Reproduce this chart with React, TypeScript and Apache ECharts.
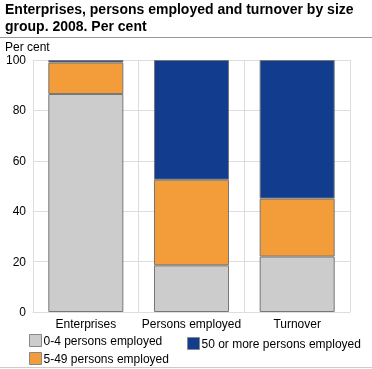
import React, { useEffect, useRef } from "react";
import * as echarts from "echarts";

const categories = ["Enterprises", "Persons employed", "Turnover"];
const seriesNames = ["0-4 persons employed", "5-49 persons employed", "50 or more persons employed"];
const small = [86.5, 18.5, 22];
const medium = [12.5, 34, 23];
const large = [1, 47.5, 55];
const yTicks = { min: 0, max: 100, interval: 20 };
const colors = ["#cccccc", "#f39c3a", "#123d8f"];

export default function App() {
  const ref = useRef<HTMLDivElement>(null);
  useEffect(() => {
    const chart = echarts.init(ref.current!, null, { renderer: "svg" });
    const font = "'Liberation Sans', Arial, sans-serif";
    const data = [small, medium, large];
    chart.setOption({
      animation: false,
      textStyle: { fontFamily: font },
      title: {
        text: "Enterprises, persons employed and turnover by size\ngroup. 2008. Per cent",
        left: 5,
        top: 0,
        padding: 0,
        textStyle: { fontFamily: font, fontSize: 14, fontWeight: "bold", color: "#000", lineHeight: 17 },
      },
      graphic: [
        { type: "line", shape: { x1: 0, y1: 37.5, x2: 372, y2: 37.5 }, style: { stroke: "#999", lineWidth: 1 } },
        { type: "line", shape: { x1: 0, y1: 367.5, x2: 372, y2: 367.5 }, style: { stroke: "#ccc", lineWidth: 1 } },
        { type: "text", left: 5, top: 41, style: { text: "Per cent", font: `12px ${font}`, fill: "#000" } },
      ],
      legend: [
        {
          data: [seriesNames[0], seriesNames[1]],
          orient: "vertical",
          left: 29,
          top: 334,
          itemWidth: 12,
          itemHeight: 12,
          itemGap: 5,
          padding: 0,
          icon: "rect",
          textStyle: { fontFamily: font, fontSize: 12, color: "#000", padding: [0, 0, 0, -3] },
          itemStyle: { borderColor: "#888", borderWidth: 1 },
        },
        {
          data: [seriesNames[2]],
          orient: "vertical",
          left: 187,
          top: 337,
          itemWidth: 12,
          itemHeight: 12,
          padding: 0,
          icon: "rect",
          textStyle: { fontFamily: font, fontSize: 12, color: "#000", padding: [0, 0, 0, -3] },
          itemStyle: { borderColor: "#888", borderWidth: 1 },
        },
      ],
      grid: { left: 33, right: 22, top: 60, bottom: 57, containLabel: false },
      xAxis: {
        type: "category",
        data: categories,
        axisLine: { lineStyle: { color: "#ddd" } },
        axisTick: { show: false },
        axisLabel: { color: "#000", fontSize: 12, margin: 6, fontFamily: font, interval: 0 },
        splitLine: { show: true, lineStyle: { color: "#ddd" } },
      },
      yAxis: {
        type: "value",
        min: yTicks.min,
        max: yTicks.max,
        interval: yTicks.interval,
        axisLine: { show: false },
        axisTick: { show: false },
        axisLabel: { color: "#000", fontSize: 12, margin: 7, fontFamily: font },
        splitLine: { lineStyle: { color: "#ddd" } },
      },
      series: seriesNames.map((name, i) => ({
        name,
        type: "bar",
        stack: "total",
        barWidth: "71%",
        data: data[i],
        itemStyle: { color: colors[i], borderColor: "#777", borderWidth: 1 },
      })),
    });
    return () => chart.dispose();
  }, []);
  return <div ref={ref} style={{ position: "fixed", left: 0, top: 0, width: 372, height: 369 }} />;
}
